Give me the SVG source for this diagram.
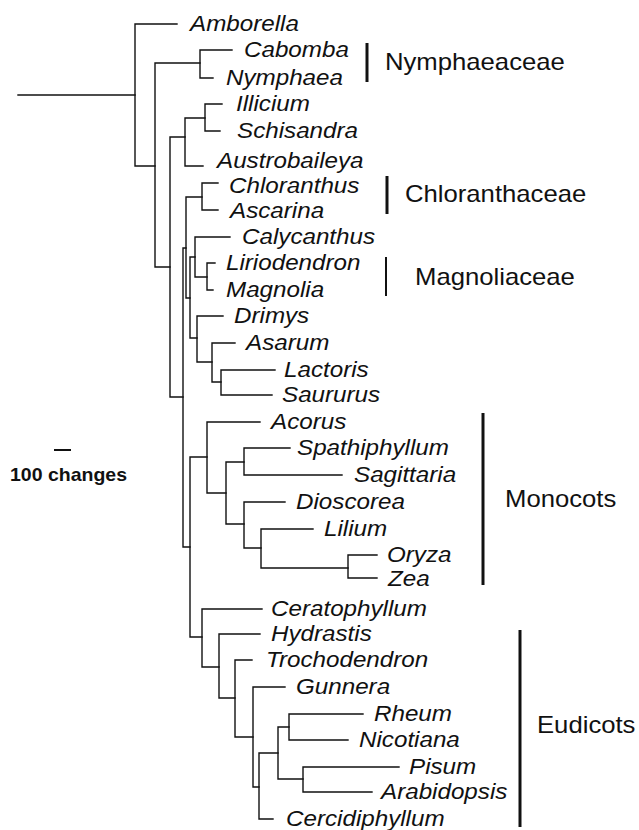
<svg xmlns="http://www.w3.org/2000/svg" width="639" height="830" viewBox="0 0 639 830">
<style>
  .br { fill: none; stroke: #111; stroke-width: 1.4; stroke-linecap: square; }
  .bar { stroke: #111; stroke-width: 3; }
  .tx { font-family: "Liberation Sans", Arial, sans-serif; font-style: italic; font-size: 22px; fill: #111; }
  .grp { font-family: "Liberation Sans", Arial, sans-serif; font-size: 24px; fill: #111; }
  .sc { font-family: "Liberation Sans", Arial, sans-serif; font-weight: bold; font-size: 17.5px; fill: #111; }
</style>
<rect width="639" height="830" fill="#fff"/>
<g id="connectors">
  <path class="br" d="M18,95 H135"/>
  <path class="br" d="M177,24 H135 V166 H155"/>
  <path class="br" d="M200,63 H155 V267 H170"/>
  <path class="br" d="M232,50 H200 V78 H213"/>
  <path class="br" d="M185,137 H170 V397 H183"/>
  <path class="br" d="M205,118 H185 V166 H203"/>
  <path class="br" d="M222,104 H205 V131 H220"/>
  <path class="br" d="M186,248 H183 V547 H190"/>
  <path class="br" d="M202,197 H186 V298 H190"/>
  <path class="br" d="M218,183 H202 V210 H218"/>
  <path class="br" d="M195,257 H190 V338 H197"/>
  <path class="br" d="M230,237 H195 V277 H207"/>
  <path class="br" d="M215,263 H207 V290 H213"/>
  <path class="br" d="M223,316 H197 V362 H212"/>
  <path class="br" d="M235,343 H212 V382 H221"/>
  <path class="br" d="M275,370 H221 V395 H272"/>
  <path class="br" d="M207,457 H190 V637 H202"/>
  <path class="br" d="M260,422 H207 V493 H226"/>
  <path class="br" d="M244,462 H226 V524 H244"/>
  <path class="br" d="M290,448 H244 V475 H342"/>
  <path class="br" d="M285,502 H244 V548 H261"/>
  <path class="br" d="M313,529 H261 V568 H348"/>
  <path class="br" d="M377,555 H348 V578 H377"/>
  <path class="br" d="M262,609 H202 V667 H219"/>
  <path class="br" d="M260,634 H219 V698 H235"/>
  <path class="br" d="M252,660 H235 V737 H253"/>
  <path class="br" d="M285,687 H253 V787 H259"/>
  <path class="br" d="M278,753 H259 V819 H273"/>
  <path class="br" d="M289,727 H278 V779 H303"/>
  <path class="br" d="M363,714 H289 V740 H348"/>
  <path class="br" d="M399,767 H303 V792 H372"/>
</g>
<g id="taxa">
  <g id="Amborella"><text class="tx" transform="translate(190,31) scale(1.1,1)">Amborella</text></g>
  <g id="Cabomba"><text class="tx" transform="translate(244,57) scale(1.1,1)">Cabomba</text></g>
  <g id="Nymphaea"><text class="tx" transform="translate(226,85) scale(1.1,1)">Nymphaea</text></g>
  <g id="Illicium"><text class="tx" transform="translate(236,111) scale(1.1,1)">Illicium</text></g>
  <g id="Schisandra"><text class="tx" transform="translate(237,138) scale(1.1,1)">Schisandra</text></g>
  <g id="Austrobaileya"><text class="tx" transform="translate(217,168) scale(1.1,1)">Austrobaileya</text></g>
  <g id="Chloranthus"><text class="tx" transform="translate(229,193) scale(1.1,1)">Chloranthus</text></g>
  <g id="Ascarina"><text class="tx" transform="translate(230,218) scale(1.1,1)">Ascarina</text></g>
  <g id="Calycanthus"><text class="tx" transform="translate(242,244) scale(1.1,1)">Calycanthus</text></g>
  <g id="Liriodendron"><text class="tx" transform="translate(226,270) scale(1.1,1)">Liriodendron</text></g>
  <g id="Magnolia"><text class="tx" transform="translate(226,297) scale(1.1,1)">Magnolia</text></g>
  <g id="Drimys"><text class="tx" transform="translate(234,323) scale(1.1,1)">Drimys</text></g>
  <g id="Asarum"><text class="tx" transform="translate(246,350) scale(1.1,1)">Asarum</text></g>
  <g id="Lactoris"><text class="tx" transform="translate(284,377) scale(1.1,1)">Lactoris</text></g>
  <g id="Saururus"><text class="tx" transform="translate(282,402) scale(1.1,1)">Saururus</text></g>
  <g id="Acorus"><text class="tx" transform="translate(271,429) scale(1.1,1)">Acorus</text></g>
  <g id="Spathiphyllum"><text class="tx" transform="translate(297,455) scale(1.1,1)">Spathiphyllum</text></g>
  <g id="Sagittaria"><text class="tx" transform="translate(354,482) scale(1.1,1)">Sagittaria</text></g>
  <g id="Dioscorea"><text class="tx" transform="translate(296,509) scale(1.1,1)">Dioscorea</text></g>
  <g id="Lilium"><text class="tx" transform="translate(324,536) scale(1.1,1)">Lilium</text></g>
  <g id="Oryza"><text class="tx" transform="translate(387,562) scale(1.1,1)">Oryza</text></g>
  <g id="Zea"><text class="tx" transform="translate(388,586) scale(1.1,1)">Zea</text></g>
  <g id="Ceratophyllum"><text class="tx" transform="translate(271,616) scale(1.1,1)">Ceratophyllum</text></g>
  <g id="Hydrastis"><text class="tx" transform="translate(271,641) scale(1.1,1)">Hydrastis</text></g>
  <g id="Trochodendron"><text class="tx" transform="translate(266,667) scale(1.1,1)">Trochodendron</text></g>
  <g id="Gunnera"><text class="tx" transform="translate(296,694) scale(1.1,1)">Gunnera</text></g>
  <g id="Rheum"><text class="tx" transform="translate(374,721) scale(1.1,1)">Rheum</text></g>
  <g id="Nicotiana"><text class="tx" transform="translate(359,747) scale(1.1,1)">Nicotiana</text></g>
  <g id="Pisum"><text class="tx" transform="translate(409,774) scale(1.1,1)">Pisum</text></g>
  <g id="Arabidopsis"><text class="tx" transform="translate(381,799) scale(1.1,1)">Arabidopsis</text></g>
  <g id="Cercidiphyllum"><text class="tx" transform="translate(286,826) scale(1.1,1)">Cercidiphyllum</text></g>
</g>
<g id="groups">
  <g id="Nymphaeaceae"><line class="bar" x1="367" y1="43" x2="367" y2="82"/><text class="grp" transform="translate(385,70) scale(1.07,1)">Nymphaeaceae</text></g>
  <g id="Chloranthaceae"><line class="bar" x1="387" y1="176" x2="387" y2="214"/><text class="grp" transform="translate(405,202) scale(1.07,1)">Chloranthaceae</text></g>
  <g id="Magnoliaceae"><line class="bar" x1="386" y1="257" x2="386" y2="296" style="stroke-width:2"/><text class="grp" transform="translate(415,285) scale(1.07,1)">Magnoliaceae</text></g>
  <g id="Monocots"><line class="bar" x1="483" y1="413" x2="483" y2="585"/><text class="grp" transform="translate(505,507) scale(1.07,1)">Monocots</text></g>
  <g id="Eudicots"><line class="bar" x1="520" y1="630" x2="520" y2="827"/><text class="grp" transform="translate(537,733) scale(1.07,1)">Eudicots</text></g>
</g>
<g id="scale">
  <line x1="54" y1="450" x2="71" y2="450" stroke="#111" stroke-width="2"/>
  <text class="sc" transform="translate(10,481) scale(1.115,1)">100 changes</text>
</g>
</svg>
